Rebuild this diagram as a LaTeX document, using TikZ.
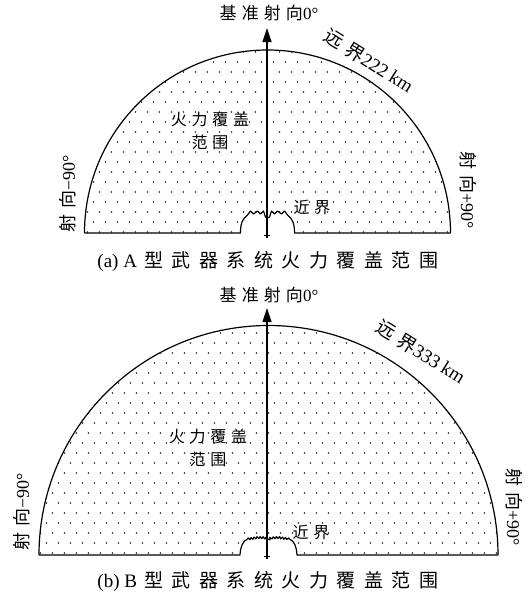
\documentclass[tikz,border=0pt]{standalone}
\usepackage{fontspec}
\setmainfont{Liberation Serif}
\newfontfamily\cjk[LetterSpace=30]{Noto Sans CJK SC}
\newfontfamily\cjkcap[LetterSpace=45]{Noto Sans CJK SC}
\usetikzlibrary{arrows.meta,decorations.pathmorphing}
\begin{document}
\begin{tikzpicture}[x=1pt,y=-1pt,
  outline/.style={line width=1.2pt,line join=round},
  dotfill/.style={fill=black!85},
  axisline/.style={line width=1.2pt,-{Triangle[length=14pt,width=9pt]}},
  tickline/.style={line width=0.8pt},
  toplab/.style={inner sep=0pt,font=\fontsize{17}{19}\selectfont},
  farlab/.style={inner sep=0pt,font=\fontsize{19}{21}\selectfont},
  lab/.style={inner sep=0pt,font=\fontsize{16}{18}\selectfont},
  cov/.style={inner sep=0pt,align=center,font=\fontsize{16}{23}\selectfont},
  sidelab/.style={inner sep=0pt,font=\fontsize{18}{20}\selectfont},
  captext/.style={inner sep=0pt,font=\fontsize{19}{21}\selectfont},
  bumpA/.style={insert path={.. controls (-27,-10) and (-25,-14) .. (-20,-18)
     -- (-17,-22) -- (-14,-19) -- (-10,-22) -- (-7,-19) -- (-4,-22) -- (-2,-16) -- (0,-15)
     -- (2,-16) -- (4,-22) -- (7,-19) -- (10,-22) -- (14,-19) -- (17,-22) -- (20,-18)
     .. controls (25,-14) and (27,-10) .. (27,0)}},
  bumpB/.style={insert path={.. controls (-28,-8) and (-26,-14) .. (-21,-16)
     decorate[decoration={zigzag,segment length=3pt,amplitude=1pt}]{-- (-10,-17.5) -- (-2,-17) -- (0,-15) -- (2,-17) -- (10,-17.5) -- (21,-16)}
     .. controls (26,-14) and (28,-8) .. (28.5,0)}}
]
\useasboundingbox (0,0) rectangle (528,597);

% ---------------- (a) ----------------
\begin{scope}[shift={(267.5,233)}]
  \begin{scope}
    \clip (-183,0) arc[start angle=180,end angle=0,radius=183pt] -- cycle;
    \foreach \k in {0,...,18} {
      \foreach \j in {-16,...,15} {
        \fill[dotfill] ({12*\j+6*mod(\k,2)},{-1-10*\k}) circle[radius=0.8pt];
      }
    }
  \end{scope}
  \fill[white] (-27,0) [bumpA] -- cycle;
  \draw[outline] (-183,0) arc[start angle=180,end angle=0,radius=183pt];
  \draw[outline] (-183,0) -- (-27,0) [bumpA] -- (183,0);
  \coordinate (Abase) at (-0.5,5);
  \coordinate (Atip) at (-0.5,-205);
  \draw[axisline] (Abase) -- (Atip);
  \coordinate (AtL) at (-3.5,2);
  \coordinate (AtR) at (2.5,2);
  \draw[tickline] (AtL) -- (AtR);
\end{scope}

\node[toplab] (Atop) at (269,13) {{\cjk 基准射向}0°};
\node[farlab,rotate=-32] (Afar) at (369,61) {{\cjk 远界}222 km};
\node[cov] (Acov) at (210,131) {\cjk 火力覆盖\\\cjk 范围};
\node[lab] (Anear) at (312,207) {\cjk 近界};
\node[sidelab,rotate=90] (Aleft) at (68,194) {{\cjk 射向}−90°};
\node[sidelab,rotate=-90] (Aright) at (468,190) {{\cjk 射向}+90°};
\node[captext] (Acap) at (268,262) {(a) A\hspace{7pt}{\cjkcap 型武器系统火力覆盖范围}};

% ---------------- (b) ----------------
\begin{scope}[shift={(268.5,555)}]
  \begin{scope}
    \clip (-229.5,0) arc[start angle=180,end angle=0,radius=229.5pt] -- cycle;
    \foreach \k in {0,...,22} {
      \foreach \j in {-20,...,19} {
        \fill[dotfill] ({12*\j+6*mod(\k,2)},{-2-10*\k}) circle[radius=0.8pt];
      }
    }
  \end{scope}
  \fill[white] (-28.5,0) [bumpB] -- cycle;
  \draw[outline] (-229.5,0) arc[start angle=180,end angle=0,radius=229.5pt];
  \draw[outline] (-229.5,0) -- (-28.5,0) [bumpB] -- (229.5,0);
  \coordinate (Bbase) at (-1.5,4);
  \coordinate (Btip) at (-1.5,-247);
  \draw[axisline] (Bbase) -- (Btip);
  \coordinate (BtL) at (-4.5,1.5);
  \coordinate (BtR) at (1.5,1.5);
  \draw[tickline] (BtL) -- (BtR);
\end{scope}

\node[toplab] (Btop) at (269,295) {{\cjk 基准射向}0°};
\node[farlab,rotate=-32] (Bfar) at (421,352) {{\cjk 远界}333 km};
\node[cov] (Bcov) at (208,448) {\cjk 火力覆盖\\\cjk 范围};
\node[lab] (Bnear) at (311,532) {\cjk 近界};
\node[sidelab,rotate=90] (Bleft) at (22,512) {{\cjk 射向}−90°};
\node[sidelab,rotate=-90] (Bright) at (514,507) {{\cjk 射向}+90°};
\node[captext] (Bcap) at (268,581) {(b) B\hspace{7pt}{\cjkcap 型武器系统火力覆盖范围}};
\end{tikzpicture}
\end{document}
